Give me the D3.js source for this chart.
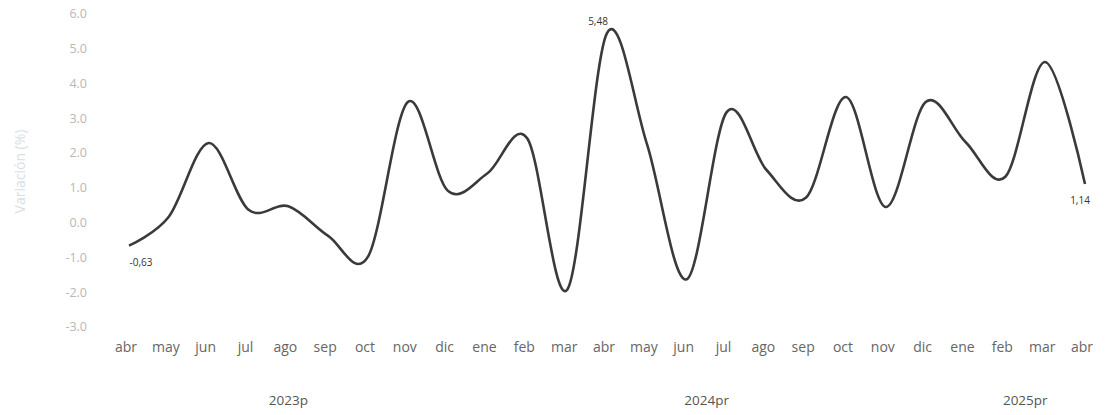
<!DOCTYPE html>
<html>
<head>
<meta charset="utf-8">
<script src="https://cdn.jsdelivr.net/npm/d3@7"></script>
<style>
  body { margin: 0; background: #fff; }
  svg text { font-family: "Open Sans", "Noto Sans", sans-serif; }
</style>
</head>
<body>
<svg id="chart" width="1107" height="415"></svg>
<script>
// months from abr 2023 to abr 2025
const months = ["abr", "may", "jun", "jul", "ago", "sep", "oct", "nov", "dic",
  "ene", "feb", "mar", "abr", "may", "jun", "jul", "ago", "sep", "oct", "nov", "dic",
  "ene", "feb", "mar", "abr"];
const variation = [-0.63, 0.2, 2.32, 0.4, 0.5, -0.35, -0.95, 3.5, 0.95,
  1.45, 2.45, -1.9, 5.48, 2.3, -1.6, 3.2, 1.55, 0.75, 3.64, 0.48, 3.5,
  2.35, 1.35, 4.65, 1.14];
const years = ["2023p", "2024pr", "2025pr"];
const yearSpans = [[0, 8], [9, 20], [21, 24]];
const yTicks = [6, 5, 4, 3, 2, 1, 0, -1, -2, -3];
const labelled = [0, 12, 24];

const svg = d3.select("#chart");
const data = variation.map((v, i) => ({ i, v }));

const x = d3.scaleLinear().domain([0, months.length - 1]).range([129, 1085]);
const y = d3.scaleLinear().domain([-3, 6]).range([328, 15]);

// y tick labels (no axis line)
svg.append("g")
  .selectAll("text")
  .data(yTicks)
  .enter()
  .append("text")
  .attr("x", 87)
  .attr("y", (d) => y(d))
  .attr("dominant-baseline", "middle")
  .attr("text-anchor", "end")
  .attr("font-size", "12.5px")
  .attr("fill", "#b8b8b8")
  .text((d) => d.toFixed(1));

// y axis title
svg.append("text")
  .attr("transform", `translate(25, ${y(1.5)}) rotate(-90)`)
  .attr("text-anchor", "middle")
  .attr("font-size", "14px")
  .attr("fill", "#d6dfe3")
  .text("Variación (%)");

// month labels
svg.append("g")
  .selectAll("text")
  .data(months)
  .enter()
  .append("text")
  .attr("x", (d, i) => x(i) - 3)
  .attr("y", 352)
  .attr("text-anchor", "middle")
  .attr("font-size", "14px")
  .attr("fill", "#666")
  .text((d) => d);

// year labels centred under their months
svg.append("g")
  .selectAll("text")
  .data(years)
  .enter()
  .append("text")
  .attr("x", (d, k) => (x(yearSpans[k][0]) + x(yearSpans[k][1])) / 2)
  .attr("y", 405)
  .attr("text-anchor", "middle")
  .attr("font-size", "13.5px")
  .attr("fill", "#555")
  .text((d) => d);

// smoothed line
const line = d3.line()
  .x((d) => x(d.i))
  .y((d) => y(d.v))
  .curve(d3.curveCardinal.tension(0));

svg.append("path")
  .datum(data)
  .attr("d", line)
  .attr("fill", "none")
  .attr("stroke", "#3a3a3a")
  .attr("stroke-width", 2.6)
  .attr("stroke-linejoin", "round");

// data labels
const fmt = (v) => v.toFixed(2).replace(".", ",");
svg.append("g")
  .selectAll("text")
  .data(labelled.map((i) => data[i]))
  .enter()
  .append("text")
  .attr("x", (d) => (d.i === 0 ? x(d.i) + 12 : d.i === 24 ? x(d.i) - 5 : x(d.i) - 9))
  .attr("y", (d) => (d.i === 12 ? y(d.v) - 8 : y(d.v) + 20))
  .attr("text-anchor", "middle")
  .attr("font-size", "10px")
  .attr("fill", "#333")
  .text((d) => fmt(d.v));
</script>
</body>
</html>
